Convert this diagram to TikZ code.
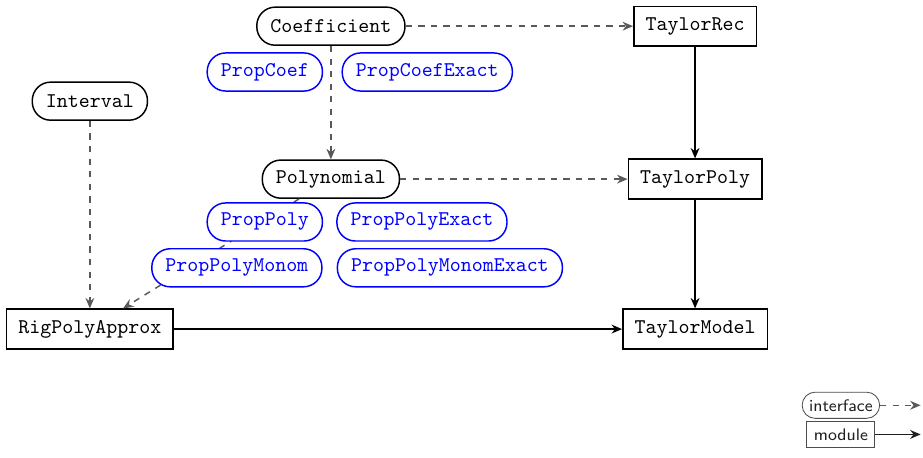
\documentclass[tikz,border=0pt]{standalone}
\usepackage{tikz}
\usetikzlibrary{arrows.meta,positioning}

\begin{document}
\begin{tikzpicture}[>={Stealth[length=5pt,width=4.2pt]}, font=\ttfamily,
  iface/.style={draw, line width=0.7pt, fill=white, rounded corners=3.1mm, minimum height=6.4mm, inner xsep=2.3mm},
  prop/.style={iface, draw=blue, text=blue},
  modul/.style={draw, line width=0.7pt, minimum height=6.7mm, inner xsep=2mm},
  uses/.style={->, dashed, gray!70!black, line width=0.7pt},
  impl/.style={->, line width=0.7pt},
  legend/.style={draw=gray!60!black, text=gray!25!black, font=\sffamily\footnotesize, minimum height=4.4mm}]
  \useasboundingbox (0,0) rectangle (15.51,7.68);

  % interfaces
  \node[iface] (coef) at (5.56,7.24) {Coefficient};
  \node[iface] (poly) at (5.56,4.67) {Polynomial};
  \node[iface] (ival) at (1.51,5.98) {Interval};

  % modules
  \node[modul] (rpa) at (1.51,2.15) {RigPolyApprox};
  \node[modul] (trec) at (11.68,7.24) {TaylorRec};
  \node[modul] (tpoly) at (11.68,4.67) {TaylorPoly};
  \node[modul] (tmod) at (11.68,2.15) {TaylorModel};

  \draw[uses] (coef) -- (trec);
  \draw[uses] (coef) -- (poly);
  \draw[uses] (poly) -- (tpoly);
  \draw[uses] (ival) -- (rpa);
  \draw[uses] (poly) -- (rpa);
  \draw[impl] (trec) -- (tpoly);
  \draw[impl] (tpoly) -- (tmod);
  \draw[impl] (rpa) -- (tmod);

  % properties, on top of the lines
  \node[prop] (pcoef) at (4.45,6.47) {PropCoef};
  \node[prop] (pcoefx) at (7.18,6.47) {PropCoefExact};
  \node[prop] (ppoly) at (4.45,3.95) {PropPoly};
  \node[prop] (ppolyx) at (7.09,3.95) {PropPolyExact};
  \node[prop] (pmon) at (3.98,3.18) {PropPolyMonom};
  \node[prop] (pmonx) at (7.56,3.18) {PropPolyMonomExact};

  % legend
  \node[legend, rounded corners=2.2mm] (lif) at (14.13,0.87) {interface};
  \node[legend] (lmod) at (14.13,0.38) {module};
  \coordinate (lifend) at (15.47,0.87);
  \coordinate (lmodend) at (15.47,0.38);
  \draw[uses] (lif) -- (lifend);
  \draw[impl, gray!25!black] (lmod) -- (lmodend);
\end{tikzpicture}
\end{document}
